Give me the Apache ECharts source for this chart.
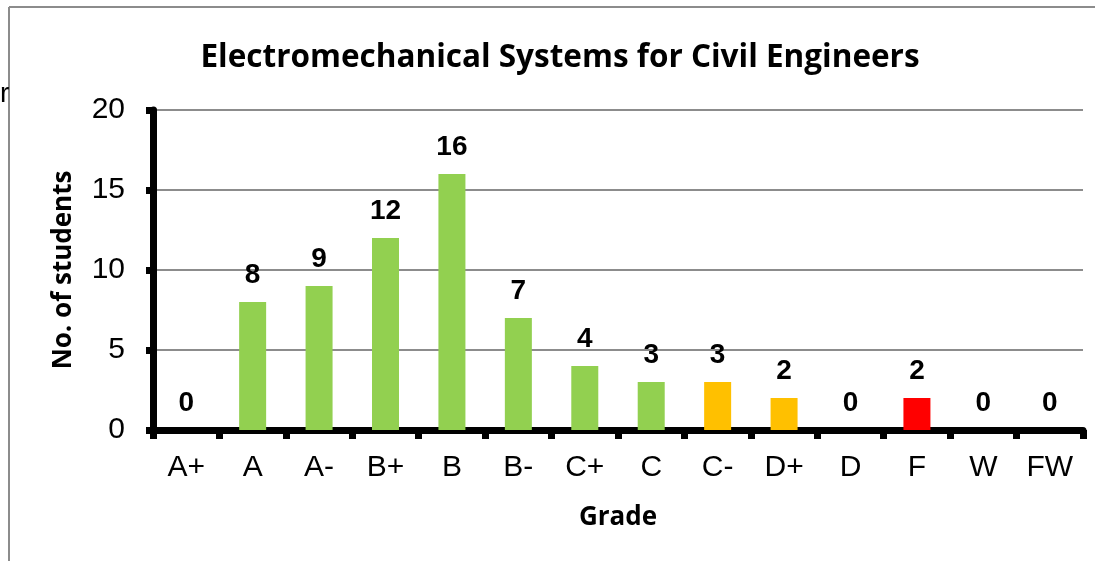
<!DOCTYPE html>
<html>
<head>
<meta charset="utf-8">
<script src="https://cdn.jsdelivr.net/npm/echarts@6/dist/echarts.min.js"></script>
<style>
html,body{margin:0;padding:0;background:#fff;}
#chart{width:1095px;height:561px;}
</style>
</head>
<body>
<div id="chart"></div>
<script>
const categories = ['A+','A','A-','B+','B','B-','C+','C','C-','D+','D','F','W','FW'];
const students = [0,8,9,12,16,7,4,3,3,2,0,2,0,0];
const barColors = ['#92D050','#92D050','#92D050','#92D050','#92D050','#92D050','#92D050','#92D050','#FFC000','#FFC000','#92D050','#FF0000','#92D050','#92D050'];
const yTicks = [0,5,10,15,20];
const titleText = 'Electromechanical Systems for Civil Engineers';

const chart = echarts.init(document.getElementById('chart'), null, {renderer:'canvas'});
chart.setOption({
  animation:false,
  backgroundColor:'#ffffff',
  title:{
    text:titleText,
    left:555, top:37, textAlign:'center',
    textStyle:{fontFamily:'Open Sans', fontWeight:'bold', fontSize:31.5, color:'#000'}
  },
  graphic:[
    {type:'line', shape:{x1:9,y1:7,x2:1095,y2:7}, style:{stroke:'#8c8c8c', lineWidth:2}},
    {type:'line', shape:{x1:9,y1:7,x2:9,y2:561}, style:{stroke:'#8c8c8c', lineWidth:2}},
    {type:'text', left:0, top:80, style:{text:'r', font:'28px "Liberation Sans"', fill:'#000'}}
  ],
  grid:{left:153, right:12, top:110, bottom:131, containLabel:false},
  xAxis:{
    type:'category',
    data:categories,
    name:'Grade',
    nameLocation:'middle',
    nameGap:75,
    nameTextStyle:{fontFamily:'Open Sans', fontWeight:'bold', fontSize:26, color:'#000'},
    axisLine:{lineStyle:{color:'#000', width:7}},
    axisTick:{show:true, alignWithLabel:false, length:9, lineStyle:{color:'#000', width:7}},
    axisLabel:{fontFamily:'Liberation Sans', fontSize:30, color:'#000', margin:23, interval:0}
  },
  yAxis:{
    type:'value',
    min:0, max:20, interval:5,
    name:'No. of students',
    nameLocation:'middle',
    nameGap:76,
    nameTextStyle:{fontFamily:'Open Sans', fontWeight:'bold', fontSize:26, color:'#000'},
    axisLine:{show:true, lineStyle:{color:'#000', width:7}},
    axisTick:{show:true, length:7, lineStyle:{color:'#000', width:7}},
    axisLabel:{fontFamily:'Liberation Sans', fontSize:30, color:'#000', margin:28,
      formatter:function(v){ return yTicks.indexOf(v) >= 0 ? String(v) : ''; }},
    splitLine:{show:true, lineStyle:{color:'#8c8c8c', width:2}}
  },
  series:[{
    type:'bar',
    data:students.map((v,i)=>({value:v, itemStyle:{color:barColors[i]}})),
    barWidth:27,
    label:{show:true, position:'top', distance:13, fontFamily:'Liberation Sans', fontWeight:'bold', fontSize:28, color:'#000'}
  }]
});
</script>
</body>
</html>
